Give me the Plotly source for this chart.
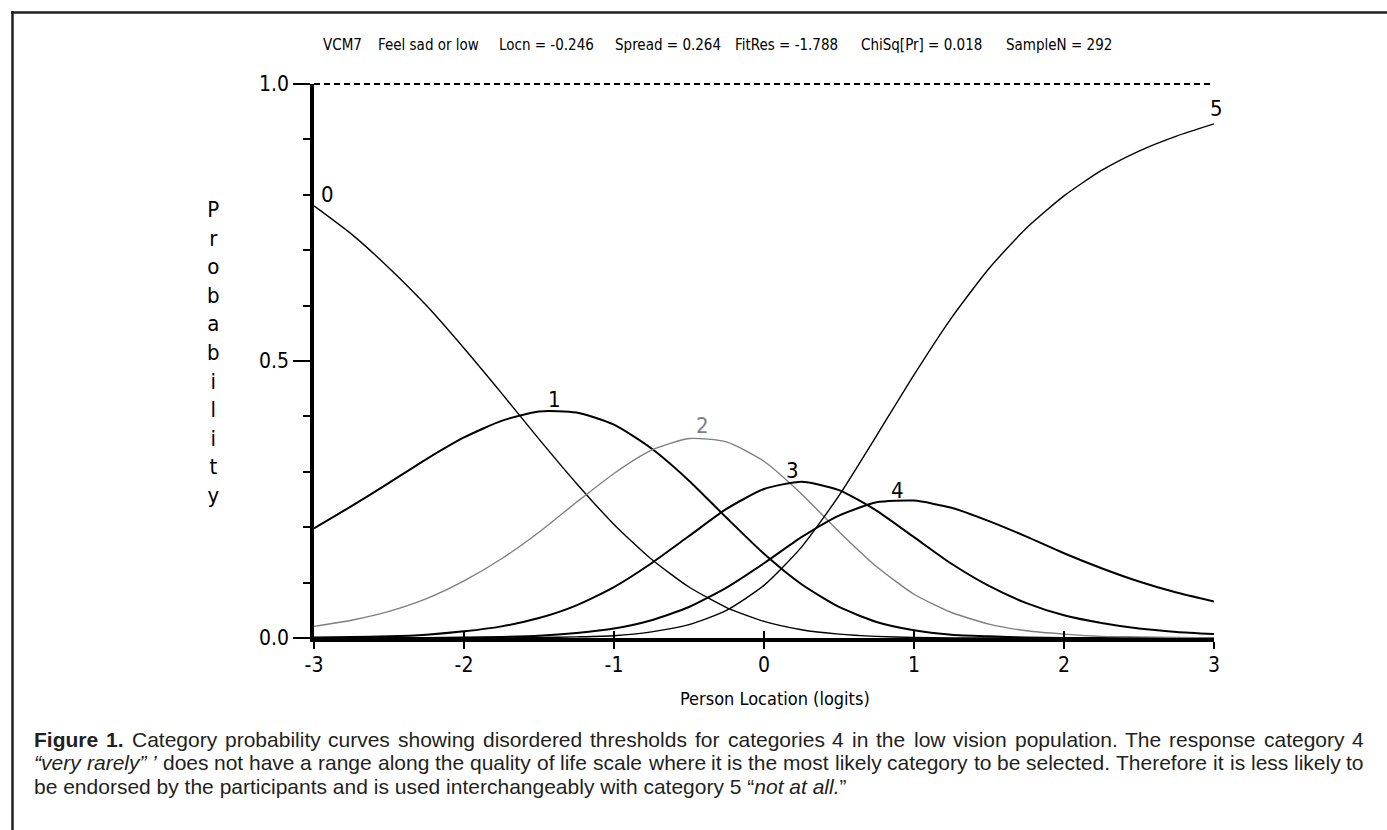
import plotly.graph_objects as go

# ---------------- data ----------------
x_logits = [-3, -2.75, -2.5, -2.25, -2, -1.75, -1.5, -1.25, -1, -0.75, -0.5, -0.25,
            0, 0.25, 0.5, 0.75, 1, 1.25, 1.5, 1.75, 2, 2.25, 2.5, 2.75, 3]

cat0 = [0.780, 0.729, 0.668, 0.600, 0.523, 0.442, 0.359, 0.279, 0.205, 0.142, 0.092, 0.055,
        0.030, 0.015, 0.007, 0.003, 0.001, 0.000, 0.000, 0.000, 0.000, 0.000, 0.000, 0.000, 0.000]
cat1 = [0.198, 0.238, 0.280, 0.323, 0.362, 0.392, 0.409, 0.407, 0.385, 0.342, 0.284, 0.217,
        0.152, 0.097, 0.056, 0.029, 0.014, 0.006, 0.003, 0.001, 0.000, 0.000, 0.000, 0.000, 0.000]
cat2 = [0.021, 0.032, 0.048, 0.071, 0.103, 0.143, 0.191, 0.245, 0.297, 0.339, 0.360, 0.354,
        0.319, 0.260, 0.192, 0.129, 0.079, 0.046, 0.025, 0.013, 0.007, 0.003, 0.002, 0.001, 0.000]
cat3 = [0.001, 0.002, 0.003, 0.006, 0.012, 0.021, 0.036, 0.059, 0.092, 0.135, 0.184, 0.233,
        0.269, 0.282, 0.267, 0.230, 0.182, 0.134, 0.094, 0.063, 0.041, 0.027, 0.017, 0.011, 0.007]
cat4 = [0.000, 0.000, 0.000, 0.000, 0.001, 0.002, 0.004, 0.009, 0.017, 0.032, 0.056, 0.091,
        0.135, 0.182, 0.221, 0.245, 0.248, 0.235, 0.211, 0.183, 0.153, 0.126, 0.102, 0.082, 0.066]
cat5 = [0.000, 0.000, 0.000, 0.000, 0.000, 0.000, 0.001, 0.002, 0.004, 0.011, 0.024, 0.050,
        0.095, 0.164, 0.257, 0.365, 0.475, 0.578, 0.667, 0.740, 0.798, 0.844, 0.879, 0.906, 0.928]

categories = ["0", "1", "2", "3", "4", "5"]
series = [cat0, cat1, cat2, cat3, cat4, cat5]
# label anchor (logit, probability) for each category label
label_x = [-2.91, -1.40, -0.41, 0.19, 0.89, 3.0]
label_y = [0.801, 0.430, 0.383, 0.303, 0.267, 0.955]

x_ticks = [-3, -2, -1, 0, 1, 2, 3]
x_ticktext = ["-3", "-2", "-1", "0", "1", "2", "3"]
y_ticks = [0.0, 0.5, 1.0]
y_ticktext = ["0.0", "0.5", "1.0"]

title_parts = ["VCM7", "Feel sad or low", "Locn = -0.246", "Spread = 0.264",
               "FitRes = -1.788", "ChiSq[Pr] = 0.018", "SampleN = 292"]
title_left_px = [322, 377, 498, 614, 734, 860, 1005]

# caption: list of lines, each a list of (text, style) runs; style: "b" bold, "i" italic, "" plain
caption = [
    [("Figure 1.", "b"), (" Category probability curves showing disordered thresholds for categories 4 in the low vision population. The response category 4", "")],
    [("\u201cvery rarely\u201d \u2019", "i"), (" does not have a range along the quality of life scale where it is the most likely category to be selected. Therefore it is less likely to", "")],
    [("be endorsed by the participants and is used interchangeably with category 5 \u201c", ""), ("not at all.", "i"), ("\u201d", "")],
]
caption_justified = [True, True, False]

# ---------------- styling ----------------
W, H = 1387, 830
L, R, T, B = 314, 1214, 84, 638          # plot area in pixels
NARROW = "DejaVu Sans Condensed, Liberation Sans, sans-serif"
CAPFONT = "Liberation Sans, Arial, Helvetica, sans-serif"
CAPSIZE = 21
CAP_LEFT, CAP_RIGHT = 33, 1363
INK = "#231f20"

# Helvetica/Arial advance widths (1/1000 em) used to lay out the justified caption
_lower = dict(zip("abcdefghijklmnopqrstuvwxyz",
                  [556, 556, 500, 556, 556, 278, 556, 556, 222, 222, 500, 222, 833,
                   556, 556, 556, 556, 333, 500, 278, 556, 500, 722, 500, 500, 500]))
_upper = dict(zip("ABCDEFGHIJKLMNOPQRSTUVWXYZ",
                  [667, 667, 722, 722, 667, 611, 778, 722, 278, 500, 667, 556, 833,
                   722, 778, 667, 778, 722, 667, 611, 722, 667, 944, 667, 667, 611]))
HELV = {**_lower, **_upper, " ": 278, ".": 278, ",": 278, "-": 333,
        "\u201c": 333, "\u201d": 333, "\u2019": 222}
HELV.update({d: 556 for d in "0123456789"})
HELV_BOLD = {"F": 611, "i": 278, "g": 611, "u": 611, "r": 389, "e": 556, "1": 556, ".": 278, " ": 278}


def text_w(s, bold=False):
    tab = HELV_BOLD if bold else HELV
    return sum(tab.get(ch, HELV.get(ch, 556)) for ch in s) * CAPSIZE / 1000.0


def px2x(px):
    return (px - L) / (R - L)


def py2y(py):
    return (B - py) / (B - T)


line_colors = ["black", "black", "#7f7f7f", "black", "black", "black"]
line_widths = [1.4, 2.0, 1.4, 2.0, 2.0, 1.4]

fig = go.Figure()
for name, vals, col, lw in zip(categories, series, line_colors, line_widths):
    fig.add_trace(go.Scatter(x=x_logits, y=vals, mode="lines", name=name,
                             line=dict(color=col, width=lw, shape="spline", smoothing=0.6),
                             hoverinfo="skip"))

# invisible trace for the overlay axis that draws the upper half of the x ticks
fig.add_trace(go.Scatter(x=[x_logits[0], x_logits[-1]], y=[0, 0], xaxis="x2", mode="lines",
                         line=dict(width=0), showlegend=False, hoverinfo="skip"))

annotations = []
for name, lx, ly, col in zip(categories, label_x, label_y, line_colors):
    annotations.append(dict(x=lx, y=ly, xref="x", yref="y", text=name, showarrow=False,
                            font=dict(family=NARROW, size=22, color=col),
                            xanchor="center", yanchor="middle", xshift=2 if name == "5" else 0))

for part, lpx in zip(title_parts, title_left_px):
    annotations.append(dict(x=px2x(lpx), y=py2y(45), xref="paper", yref="paper", text=part,
                            showarrow=False, xanchor="left", yanchor="middle", borderpad=0,
                            font=dict(family=NARROW, size=15, color="black")))

annotations.append(dict(x=px2x(213), y=py2y(352), xref="paper", yref="paper",
                        text="<br>".join(list("Probability")), showarrow=False,
                        xanchor="center", yanchor="middle", align="center",
                        font=dict(family=NARROW, size=22, color="black")))

annotations.append(dict(x=px2x(775), y=py2y(698), xref="paper", yref="paper",
                        text="Person Location (logits)", showarrow=False,
                        xanchor="center", yanchor="middle",
                        font=dict(family=NARROW, size=18, color="black")))

# caption lines (justified lines are laid out word by word)
for i, (runs, just) in enumerate(zip(caption, caption_justified)):
    ypos = py2y(739 + 23.5 * i)
    if not just:
        html = "".join(f"<{s}>{t}</{s}>" if s else t for t, s in runs)
        annotations.append(dict(x=px2x(CAP_LEFT), y=ypos, xref="paper", yref="paper",
                                text=html, showarrow=False, xanchor="left", yanchor="middle",
                                borderpad=0,
                                font=dict(family=CAPFONT, size=CAPSIZE, color=INK)))
        continue
    words = []
    for t, s in runs:
        for w in t.split(" "):
            if w:
                words.append((w, s))
    widths = [text_w(w, s == "b") for w, s in words]
    gap = (CAP_RIGHT - CAP_LEFT - sum(widths)) / (len(words) - 1)
    xcur = CAP_LEFT
    for (w, s), wd in zip(words, widths):
        html = f"<{s}>{w}</{s}>" if s else w
        annotations.append(dict(x=px2x(xcur), y=ypos, xref="paper", yref="paper",
                                text=html, showarrow=False, xanchor="left", yanchor="middle",
                                borderpad=0,
                                font=dict(family=CAPFONT, size=CAPSIZE, color=INK)))
        xcur += wd + gap

shapes = [
    # dashed reference line at probability 1.0 (top edge of the plot area)
    dict(type="line", xref="paper", yref="paper", x0=0, x1=1, y0=1.0, y1=1.0,
         line=dict(color="black", width=1.8, dash="6px,4px")),
    # figure frame (top and left edges visible)
    dict(type="line", xref="paper", yref="paper", x0=px2x(11), x1=px2x(1400),
         y0=py2y(12.5), y1=py2y(12.5), line=dict(color=INK, width=2.5)),
    dict(type="line", xref="paper", yref="paper", x0=px2x(12.5), x1=px2x(12.5),
         y0=py2y(11), y1=py2y(840), line=dict(color=INK, width=2.5)),
]

fig.update_layout(
    width=W, height=H,
    margin=dict(l=L, r=W - R, t=T, b=H - B, pad=0),
    paper_bgcolor="white", plot_bgcolor="white",
    showlegend=False,
    annotations=annotations,
    shapes=shapes,
    xaxis=dict(range=[-3, 3], showgrid=False, zeroline=False,
               showline=True, linecolor="black", linewidth=3.5,
               tickmode="array", tickvals=x_ticks, ticktext=x_ticktext,
               ticks="outside", ticklen=7, tickwidth=1.5, tickcolor="black",
               ticklabelstandoff=-2,
               tickfont=dict(family=NARROW, size=21, color="black")),
    xaxis2=dict(range=[-3, 3], overlaying="x", anchor="y", side="bottom",
                showgrid=False, zeroline=False, showline=False,
                tickmode="array", tickvals=x_ticks, ticks="inside", ticklen=7,
                tickwidth=1.5, tickcolor="black", showticklabels=False),
    yaxis=dict(range=[0, 1], showgrid=False, zeroline=False,
               showline=True, linecolor="black", linewidth=3.5,
               tickmode="array", tickvals=y_ticks, ticktext=y_ticktext,
               ticks="outside", ticklen=17, tickwidth=1.5, tickcolor="black",
               tickfont=dict(family=NARROW, size=21, color="black"),
               minor=dict(dtick=0.1, ticks="outside", ticklen=7, tickwidth=1.5,
                          tickcolor="black", showgrid=False)),
)

fig.write_html("out.html", config={"displayModeBar": False},
               post_script="document.body.style.margin='0px';document.documentElement.style.overflow='hidden';")
